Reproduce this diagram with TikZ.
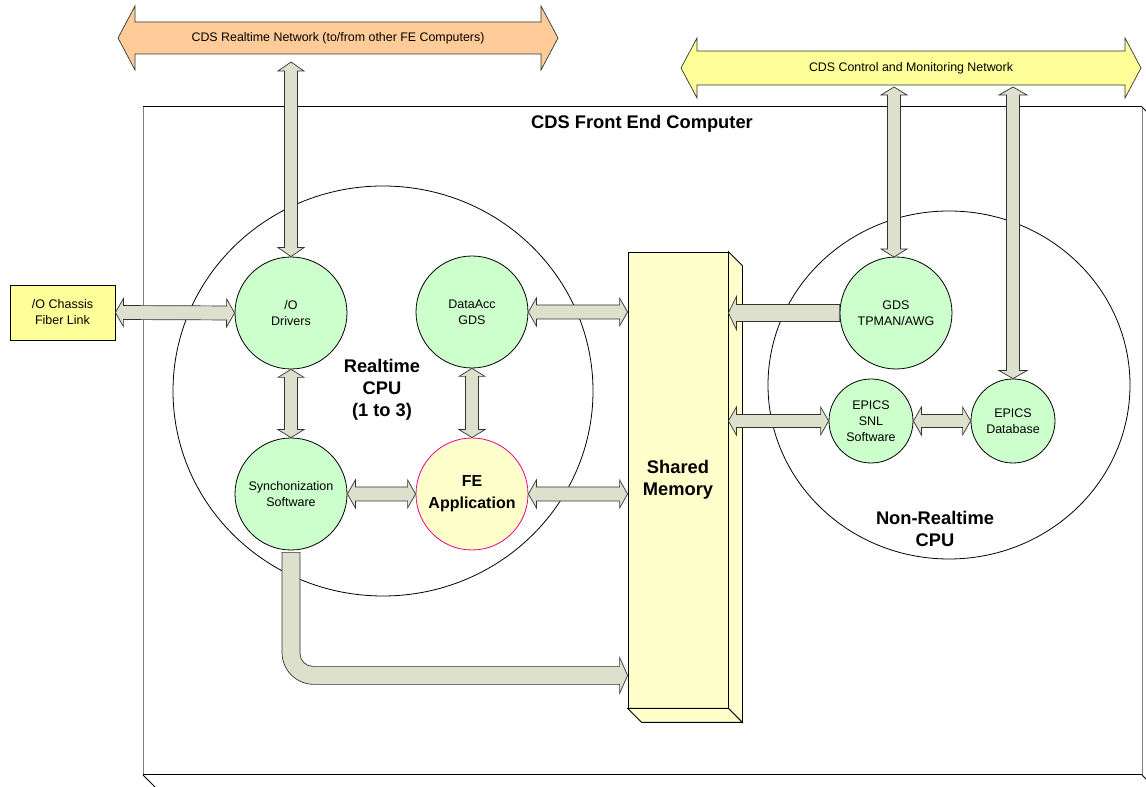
\documentclass[tikz,border=0pt]{standalone}
\usepackage{fontspec}
\setmainfont{Liberation Sans}
\usetikzlibrary{calc,shapes.geometric}

\definecolor{arrfill}{RGB}{221,224,204}
\definecolor{nodegreen}{RGB}{204,255,204}
\definecolor{paleyellow}{RGB}{255,255,204}
\definecolor{netorange}{RGB}{255,204,153}
\definecolor{netyellow}{RGB}{255,255,153}
\definecolor{edgegray}{RGB}{128,128,128}

% fat double-headed arrow: #1 style, #2 shaft half-width, #3 head half-width,
% #4 head length, #5 and #6 the two tips
\newcommand\fatdbl[6]{%
  \draw[#1] (#5)
    -- ($(#5)!#4!(#6)!#3!90:(#6)$)
    -- ($(#5)!#4!(#6)!#2!90:(#6)$)
    -- ($(#6)!#4!(#5)!#2!-90:(#5)$)
    -- ($(#6)!#4!(#5)!#3!-90:(#5)$)
    -- (#6)
    -- ($(#6)!#4!(#5)!#3!90:(#5)$)
    -- ($(#6)!#4!(#5)!#2!90:(#5)$)
    -- ($(#5)!#4!(#6)!#2!-90:(#6)$)
    -- ($(#5)!#4!(#6)!#3!-90:(#6)$)
    -- cycle;}
% fat single-headed arrow from #5 to the tip #6
\newcommand\fatone[6]{%
  \draw[#1] ($(#5)!#2!90:(#6)$)
    -- ($(#6)!#4!(#5)!#2!-90:(#5)$)
    -- ($(#6)!#4!(#5)!#3!-90:(#5)$)
    -- (#6)
    -- ($(#6)!#4!(#5)!#3!90:(#5)$)
    -- ($(#6)!#4!(#5)!#2!90:(#5)$)
    -- ($(#5)!#2!-90:(#6)$)
    -- cycle;}

\begin{document}
\begin{tikzpicture}[x=1pt,y=1pt,
  smalltext/.style={font=\fontsize{12.5}{16}\selectfont, align=center},
  nettext/.style={font=\fontsize{12.4}{14}\selectfont},
  boldtext/.style={font=\fontsize{18.3}{22}\selectfont\bfseries, align=center},
  proc/.style={circle, draw=black, line width=0.8pt, fill=nodegreen,
    minimum size=112pt, inner sep=0pt, smalltext},
  smallproc/.style={proc, minimum size=84pt},
  cpu/.style={ellipse, draw=black, line width=0.8pt, inner sep=0pt},
  fatarr/.style={draw=black!80, fill=arrfill, line width=0.7pt, line join=miter},
  netarr/.style={draw=black!80, line width=0.7pt, line join=miter},
  ]
\useasboundingbox (0,0) rectangle (1146,787);
\clip (0,0) rectangle (1146,787);
\fill[white] (0,0) rectangle (1146,787);

% front end computer enclosure
\draw[edgegray, line width=1pt] (143,12) -- (143,680);
\draw[edgegray, line width=1pt] (1142,12) -- (1142,680);
\draw[black, line width=1pt] (143,680) -- (1142,680);
\draw[black, line width=1pt] (143,12) -- (1142,12);
\draw[black, line width=0.8pt] (143,12) -- ++(14,-14) (1142,12) -- ++(14,-14)
  (1142,680) -- ++(14,-14);
\node[boldtext] (fetitle) at (642,663) {CDS Front End Computer};

% CPU groupings
\node[cpu, minimum width=420pt, minimum height=410pt] (rtcpu) at (383,396) {};
\node[cpu, minimum width=362pt, minimum height=348pt] (nrtcpu) at (949,402) {};
\node[boldtext] (rtlabel) at (382,397) {Realtime\\CPU\\(1 to 3)};
\node[boldtext] (nrtlabel) at (935,258) {Non-Realtime\\CPU};

% networks
\coordinate (rtnetL) at (118,749);
\coordinate (rtnetR) at (558,749);
\fatdbl{netarr, fill=netorange}{16pt}{32pt}{17pt}{rtnetL}{rtnetR}
\node[nettext] (rtnet) at ($(rtnetL)!.5!(rtnetR)$)
  {CDS Realtime Network (to/from other FE Computers)};
\coordinate (cmnetL) at (681,719);
\coordinate (cmnetR) at (1141,719);
\fatdbl{netarr, fill=netyellow}{17pt}{30pt}{16pt}{cmnetL}{cmnetR}
\node[nettext] (cmnet) at ($(cmnetL)!.5!(cmnetR)$)
  {CDS Control and Monitoring Network};

% shared memory block
\node[draw=black, line width=0.8pt, fill=paleyellow, minimum width=100pt,
  minimum height=456pt, inner sep=0pt, boldtext] (shm) at (678,307) {Shared\\Memory};
\draw[black, line width=0.8pt, fill=paleyellow] (shm.north east) -- ++(14,-14)
  -- ($(shm.south east)+(14,-14)$) -- (shm.south east) -- cycle;
\draw[black, line width=0.8pt, fill=paleyellow] (shm.south west) -- ++(14,-14)
  -- ($(shm.south east)+(14,-14)$) -- (shm.south east) -- cycle;

% processes
\node[draw=black, line width=0.8pt, fill=netyellow, minimum width=105pt,
  minimum height=55pt, inner sep=0pt, smalltext] (chassis) at (62.5,474.5) {/O Chassis\\Fiber Link};
\node[proc] (io) at (291,474) {/O\\Drivers};
\node[proc] (daq) at (472,475) {DataAcc\\GDS};
\node[proc] (sync) at (291,293) {Synchonization\\Software};
\node[proc, fill=paleyellow, draw=magenta, boldtext,
  font=\fontsize{16}{22}\selectfont\bfseries] (feapp) at (472,293) {FE\\Application};
\node[proc] (gds) at (896,474) {GDS\\TPMAN/AWG};
\node[smallproc] (snl) at (871,366) {EPICS\\SNL\\Software};
\node[smallproc] (epdb) at (1013,366) {EPICS\\Database};

% connector end points
\coordinate (rtnet-io) at (291,725);
\coordinate (cmnet-gds) at (894,700);
\coordinate (cmnet-db) at (1013,700);
\coordinate (shm-daq) at (daq.east -| shm.west);
\coordinate (shm-fe) at (feapp.east -| shm.west);
\coordinate (shm-gds) at (gds.west -| shm.east);
\coordinate (shm-snl) at (snl.west -| shm.east);
\coordinate (gds-top) at (894,530);
\coordinate (bendtip) at ($(shm.south west)+(0,33)$);

% data paths
\fatdbl{fatarr}{6.5pt}{13pt}{9pt}{rtnet-io}{io.north}
\fatdbl{fatarr}{7pt}{14pt}{8pt}{chassis.east}{io.west}
\fatdbl{fatarr}{7pt}{14pt}{8pt}{daq.east}{shm-daq}
\fatone{fatarr}{8.5pt}{16.5pt}{8pt}{gds.west}{shm-gds}
\fatdbl{fatarr}{6.5pt}{13pt}{8pt}{io.south}{sync.north}
\fatdbl{fatarr}{6.5pt}{13pt}{8pt}{daq.south}{feapp.north}
\fatdbl{fatarr}{7pt}{14pt}{8pt}{sync.east}{feapp.west}
\fatdbl{fatarr}{7pt}{14pt}{8pt}{feapp.east}{shm-fe}
\fatdbl{fatarr}{6.5pt}{13pt}{8pt}{cmnet-gds}{gds-top}
\fatdbl{fatarr}{6.5pt}{14pt}{8pt}{cmnet-db}{epdb.north}
\fatdbl{fatarr}{6.5pt}{14pt}{8pt}{shm-snl}{snl.west}
\fatdbl{fatarr}{6.5pt}{14pt}{8pt}{snl.east}{epdb.west}

% synchronisation feed into shared memory (bent arrow)
\draw[fatarr] ($(sync.south)+(-9,-2)$) -- ($(sync.south |- bendtip)+(-9,23)$)
  arc[start angle=180, end angle=270, radius=32]
  -- ($(bendtip)+(-8,-9)$) -- ($(bendtip)+(-8,-18)$) -- (bendtip)
  -- ($(bendtip)+(-8,18)$) -- ($(bendtip)+(-8,9)$)
  -- ($(sync.south |- bendtip)+(22,9)$)
  arc[start angle=270, end angle=180, radius=13]
  -- ($(sync.south)+(9,-2)$) -- cycle;
\end{tikzpicture}
\end{document}
